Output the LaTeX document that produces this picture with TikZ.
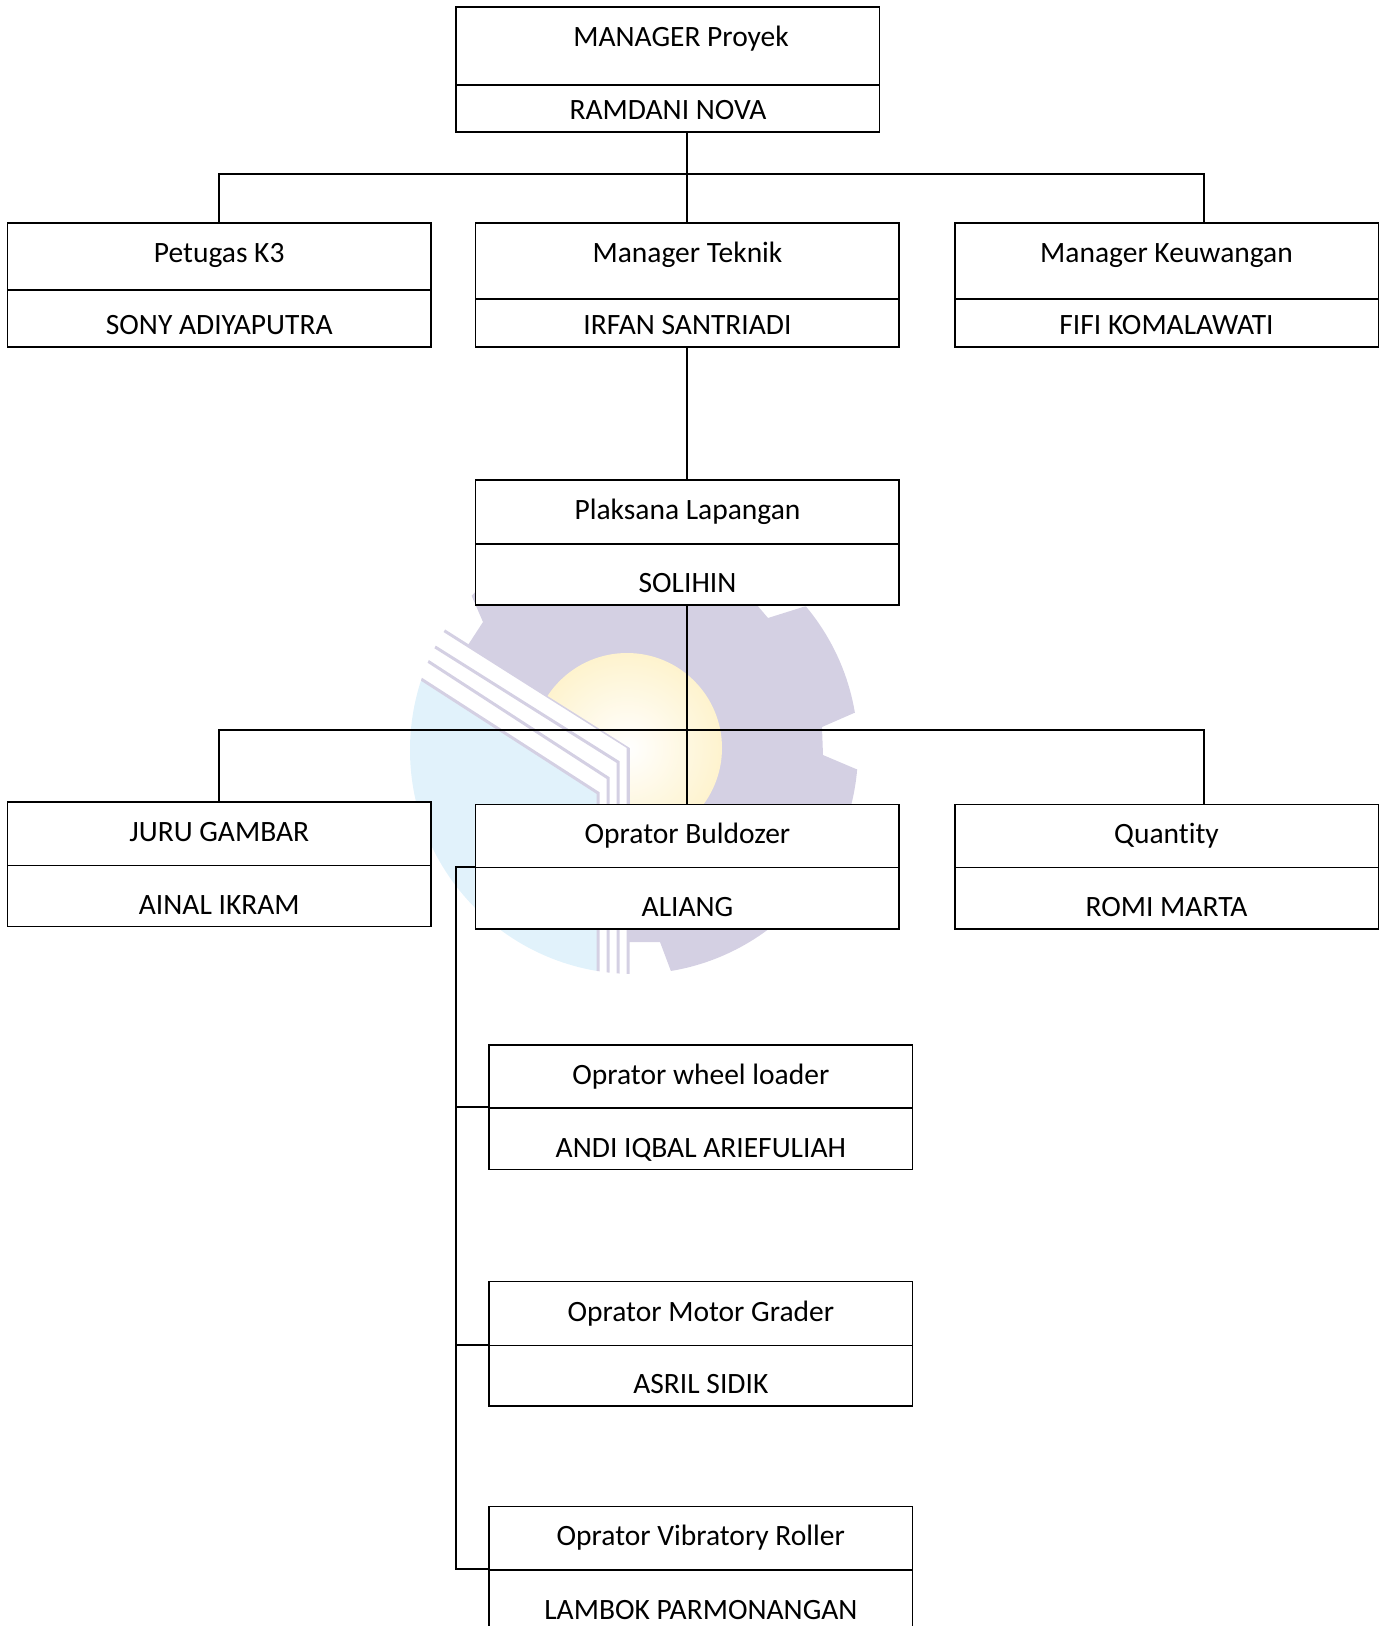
\documentclass[tikz,border=0pt]{standalone}
\usepackage{fontspec}
\setmainfont[Ligatures=NoCommon]{Carlito}
\definecolor{gearlav}{HTML}{D4D0E3}
\definecolor{logoblue}{HTML}{E1F2FB}
\definecolor{sunyellow}{HTML}{FEF3CE}
\begin{document}
\begin{tikzpicture}
[every node/.style={inner sep=0pt},
 boxpart/.style={rectangle, minimum width=423.5pt, fill=white, line width=1.5pt, draw=black},
 lbl/.style={anchor=base, yshift=-1.2pt, text=black, font=\fontsize{29.5}{33}\selectfont},
 wire/.style={line width=1.7pt, color=black}]
\useasboundingbox (0pt, 0pt) rectangle (1386pt, -1626pt);
\begin{scope}
\clip (634pt, -750pt) circle [radius=224pt];
\fill [gearlav] (468pt, -645pt) -- (628pt, -747pt) -- (628pt, -942pt) -- (660pt, -942pt) -- (672pt, -974pt) -- (690pt, -1000pt) -- (900pt, -1000pt) -- (900pt, -769pt) -- (856pt, -769pt) -- (823pt, -755pt) -- (822pt, -727pt) -- (854pt, -713pt) -- (900pt, -700pt) -- (900pt, -590pt) -- (803pt, -607pt) -- (768pt, -618pt) -- (757pt, -605pt) -- (757pt, -500pt) -- (470pt, -500pt) -- (470pt, -592pt) -- (483pt, -622pt) -- cycle;
\fill [logoblue] (400pt, -665pt) -- (598pt, -793pt) -- (598pt, -1000pt) -- (400pt, -1000pt) -- cycle;
\draw [gearlav, line width=3pt] (440pt, -628pt) -- (628pt, -747pt) -- (628pt, -1000pt);
\draw [gearlav, line width=3pt] (432pt, -645pt) -- (618pt, -762pt) -- (618pt, -1000pt);
\draw [gearlav, line width=3pt] (423pt, -658pt) -- (608pt, -778pt) -- (608pt, -1000pt);
\draw [gearlav, line width=3pt] (418pt, -677pt) -- (598pt, -793pt) -- (598pt, -1000pt);
\end{scope}
\begin{scope}
\clip (440pt, -628pt) -- (630pt, -748pt) -- (630pt, -1000pt) -- (800pt, -1000pt) -- (800pt, -600pt) -- (440pt, -600pt) -- cycle;
\shade [inner color=white, outer color=sunyellow] (627pt, -748pt) circle [radius=95pt];
\end{scope}
\node (manager) [boxpart, minimum height=78pt] at (667.75pt, -46pt) {};
\node (managerName) [boxpart, minimum height=47pt] at (667.75pt, -108.5pt) {};
\node (k3) [boxpart, minimum height=67pt] at (219.25pt, -256.5pt) {};
\node (k3Name) [boxpart, minimum height=57pt] at (219.25pt, -318.5pt) {};
\node (teknik) [boxpart, minimum height=76pt] at (687.25pt, -261pt) {};
\node (teknikName) [boxpart, minimum height=48pt] at (687.25pt, -323pt) {};
\node (keuangan) [boxpart, minimum height=76pt] at (1166.5pt, -261pt) {};
\node (keuanganName) [boxpart, minimum height=48pt] at (1166.5pt, -323pt) {};
\node (plaksana) [boxpart, minimum height=64pt] at (687.25pt, -512pt) {};
\node (plaksanaName) [boxpart, minimum height=61pt] at (687.25pt, -574.5pt) {};
\node (juru) [boxpart, minimum height=63.7pt] at (219.25pt, -833.85pt) {};
\node (juruName) [boxpart, minimum height=61pt] at (219.25pt, -896.2pt) {};
\node (buldozer) [boxpart, minimum height=63.4pt] at (687.25pt, -836pt) {};
\node (buldozerName) [boxpart, minimum height=61.3pt] at (687.25pt, -898.35pt) {};
\node (quantity) [boxpart, minimum height=63.4pt] at (1166.5pt, -836pt) {};
\node (quantityName) [boxpart, minimum height=61.3pt] at (1166.5pt, -898.35pt) {};
\node (wheel) [boxpart, minimum height=63pt] at (700.85pt, -1076.5pt) {};
\node (wheelName) [boxpart, minimum height=61.5pt] at (700.85pt, -1138.75pt) {};
\node (grader) [boxpart, minimum height=64.1pt] at (700.85pt, -1313.55pt) {};
\node (graderName) [boxpart, minimum height=60.4pt] at (700.85pt, -1375.8pt) {};
\node (roller) [boxpart, minimum height=63.3pt] at (700.85pt, -1538.35pt) {};
\node (rollerName) [boxpart, minimum height=80pt] at (700.85pt, -1610pt) {};
\coordinate (busTop) at (1204pt, -174pt);
\coordinate (busMid) at (1204pt, -730pt);
\coordinate (busSide) at (456.3pt, -1570pt);
\draw [wire] (teknik.north) -- (teknik.north |- managerName.south);
\draw [wire] (k3.north) |- (busTop) -- (busTop |- keuangan.north);
\draw [wire] (plaksana.north) -- (teknikName.south);
\draw [wire] (buldozer.north) -- (plaksanaName.south);
\draw [wire] (juru.north) |- (busMid) -- (busMid |- quantity.north);
\draw [wire] (buldozerName.north west) -| (busSide |- rollerName.north west) -- (rollerName.north west);
\draw [wire] (busSide |- wheelName.north west) -- (wheelName.north west);
\draw [wire] (busSide |- graderName.north west) -- (graderName.north west);
\node (t1) [lbl] at (681pt, -45pt) {MANAGER Proyek};
\node (t2) [lbl] at (668pt, -118.7pt) {RAMDANI NOVA};
\node (t3) [lbl] at (219.25pt, -261.5pt) {Petugas K3};
\node (t4) [lbl] at (219.25pt, -333.5pt) {SONY ADIYAPUTRA};
\node (t5) [lbl] at (687.5pt, -261.5pt) {Manager Teknik};
\node (t6) [lbl] at (687.5pt, -333.5pt) {IRFAN SANTRIADI};
\node (t7) [lbl] at (1166.5pt, -261.5pt) {Manager Keuwangan};
\node (t8) [lbl] at (1166.5pt, -333.5pt) {FIFI KOMALAWATI};
\node (t9) [lbl] at (687.5pt, -518.5pt) {Plaksana Lapangan};
\node (t10) [lbl] at (687.5pt, -591.7pt) {SOLIHIN};
\node (t11) [lbl] at (219.25pt, -840.5pt) {JURU GAMBAR};
\node (t12) [lbl] at (219.25pt, -913.7pt) {AINAL IKRAM};
\node (t13) [lbl] at (687.5pt, -842.7pt) {Oprator Buldozer};
\node (t14) [lbl] at (687.5pt, -915.7pt) {ALIANG};
\node (t15) [lbl] at (1166.5pt, -842.7pt) {Quantity};
\node (t16) [lbl] at (1166.5pt, -915.7pt) {ROMI MARTA};
\node (t17) [lbl] at (700.85pt, -1083.5pt) {Oprator wheel loader};
\node (t18) [lbl] at (700.85pt, -1156pt) {ANDI IQBAL ARIEFULIAH};
\node (t19) [lbl] at (700.85pt, -1320pt) {Oprator Motor Grader};
\node (t20) [lbl] at (700.85pt, -1392.5pt) {ASRIL SIDIK};
\node (t21) [lbl] at (700.85pt, -1544pt) {Oprator Vibratory Roller};
\node (t22) [lbl] at (700.85pt, -1618pt) {LAMBOK PARMONANGAN};
\end{tikzpicture}
\end{document}
